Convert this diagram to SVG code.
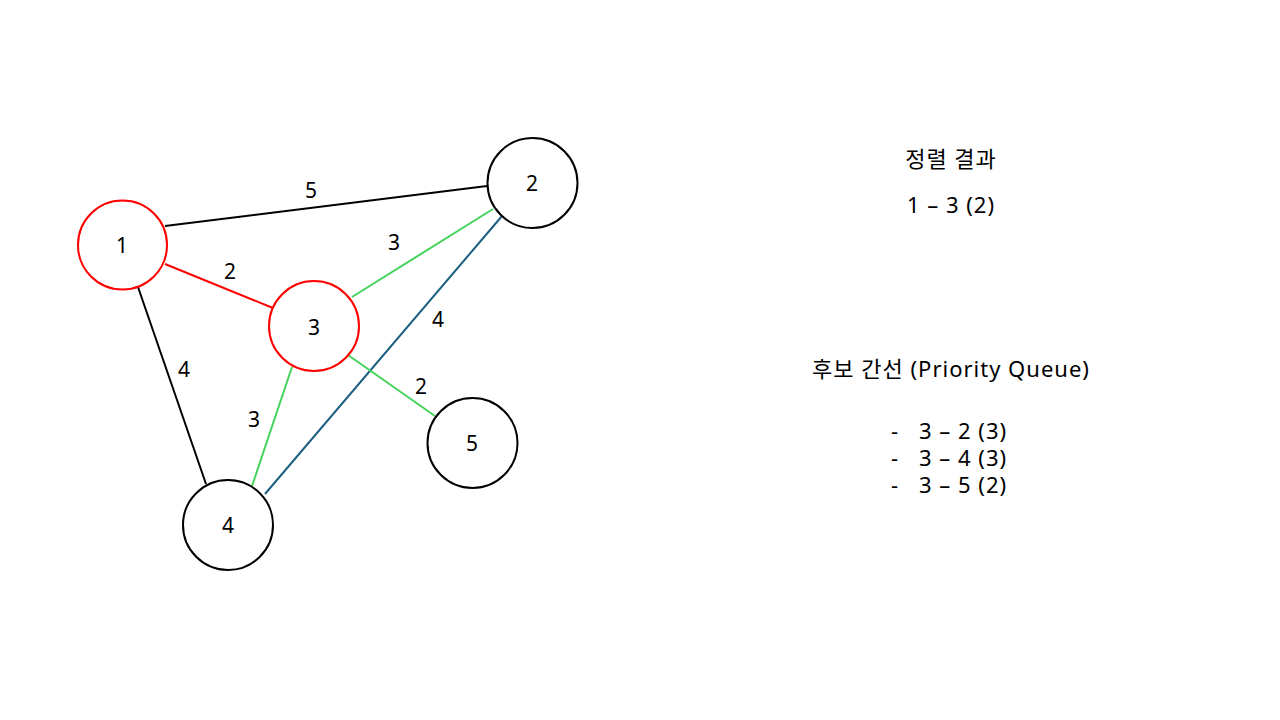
<svg xmlns="http://www.w3.org/2000/svg" width="1280" height="720" viewBox="0 0 1280 720">
<style>
.node{fill:#fff;stroke:#000;stroke-width:2}
.sel{stroke:#ff0000}
.t{font-family:"Noto Sans","Noto Sans CJK KR",sans-serif;font-size:21px;fill:#000}
.r{font-size:22px;letter-spacing:1px}
.c{text-anchor:middle;dominant-baseline:central}
.e{stroke-width:2;fill:none}
</style>
<rect width="1280" height="720" fill="#fff"/>
<g id="connectors">
<line class="e" x1="165" y1="226" x2="487" y2="186" stroke="#000"/>
<line class="e" x1="165" y1="264" x2="273" y2="308" stroke="#ff0000"/>
<line class="e" x1="138" y1="287" x2="206" y2="484" stroke="#000"/>
<line class="e" x1="352" y1="297" x2="493" y2="209" stroke="#44d35a"/>
<line class="e" x1="502" y1="216" x2="265" y2="494" stroke="#1b5e80"/>
<line class="e" x1="292" y1="367" x2="251" y2="489" stroke="#44d35a"/>
<line class="e" x1="348" y1="355" x2="435" y2="416" stroke="#44d35a"/>
<text class="t c" x="311" y="190">5</text>
<text class="t c" x="230" y="271">2</text>
<text class="t c" x="184" y="369">4</text>
<text class="t c" x="394" y="242">3</text>
<text class="t c" x="438" y="319">4</text>
<text class="t c" x="421" y="386">2</text>
<text class="t c" x="254" y="419">3</text>
</g>
<g id="node1"><circle class="node sel" cx="122.5" cy="245" r="44.5"/><text class="t c" x="122" y="245">1</text></g>
<g id="node2"><circle class="node" cx="532.5" cy="183" r="45"/><text class="t c" x="532" y="183">2</text></g>
<g id="node3"><circle class="node sel" cx="314" cy="326" r="45"/><text class="t c" x="314" y="327">3</text></g>
<g id="node4"><circle class="node" cx="228" cy="525" r="45"/><text class="t c" x="228" y="525">4</text></g>
<g id="node5"><circle class="node" cx="472.5" cy="443" r="45"/><text class="t c" x="472" y="443">5</text></g>
<g id="result">
<text class="t r c" x="951" y="158">정렬 결과</text>
<text class="t r c" x="951" y="204">1 – 3 (2)</text>
</g>
<g id="candidates">
<text class="t r c" x="951" y="368">후보 간선 (Priority Queue)</text>
<text class="t r" x="891" y="430" dominant-baseline="central">-</text>
<text class="t r" x="919" y="430" dominant-baseline="central">3 – 2 (3)</text>
<text class="t r" x="891" y="457" dominant-baseline="central">-</text>
<text class="t r" x="919" y="457" dominant-baseline="central">3 – 4 (3)</text>
<text class="t r" x="891" y="484" dominant-baseline="central">-</text>
<text class="t r" x="919" y="484" dominant-baseline="central">3 – 5 (2)</text>
</g>
</svg>
